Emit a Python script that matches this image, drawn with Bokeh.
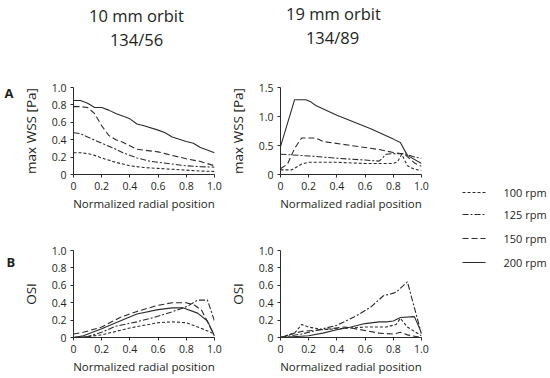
from bokeh.plotting import figure
from bokeh.layouts import row, column
from bokeh.models import Range1d, FixedTicker
from bokeh.core.properties import value
from bokeh.embed import file_html
from bokeh.resources import INLINE

FONT = "Open Sans"
INK = "#231f20"
LINE = "#2b2b2b"

# ---------------- data ----------------
titles = ["10 mm orbit", "19 mm orbit"]
subtitles = ["134/56", "134/89"]
panel_letters = ["A", "B"]
rpm_labels = ["100 rpm", "125 rpm", "150 rpm", "200 rpm"]
rpm_dashes = ["3 2", "6 2 2 2", "6 3", "solid"]

x_ticks = [0, 0.2, 0.4, 0.6, 0.8, 1.0]
x_tick_labels = ["0", "0.2", "0.4", "0.6", "0.8", "1.0"]
wss10_ticks = [0, 0.2, 0.4, 0.6, 0.8, 1.0]
wss10_tick_labels = ["0", "0.2", "0.4", "0.6", "0.8", "1.0"]
wss19_ticks = [0, 0.5, 1.0, 1.5]
wss19_tick_labels = ["0", "0.5", "1.0", "1.5"]
osi_ticks = [0, 0.2, 0.4, 0.6, 0.8, 1.0]
osi_tick_labels = ["0", "0.2", "0.4", "0.6", "0.8", "1.0"]

# A, 10 mm orbit: max WSS [Pa]
wss10_x_100 = [0, 0.05, 0.1, 0.15, 0.2, 0.3, 0.4, 0.5, 0.6, 0.7, 0.8, 0.9, 1.0]
wss10_y_100 = [0.25, 0.25, 0.24, 0.22, 0.19, 0.14, 0.10, 0.08, 0.07, 0.06, 0.05, 0.04, 0.035]
wss10_x_125 = [0, 0.05, 0.1, 0.2, 0.3, 0.35, 0.45, 0.55, 0.7, 0.8, 0.9, 1.0]
wss10_y_125 = [0.48, 0.47, 0.43, 0.36, 0.29, 0.25, 0.19, 0.15, 0.12, 0.10, 0.09, 0.085]
wss10_x_150 = [0, 0.05, 0.1, 0.15, 0.2, 0.25, 0.3, 0.35, 0.4, 0.45, 0.5, 0.6, 0.65, 0.7, 0.8, 0.9, 1.0]
wss10_y_150 = [0.78, 0.78, 0.77, 0.70, 0.56, 0.45, 0.40, 0.37, 0.33, 0.29, 0.28, 0.26, 0.24, 0.22, 0.18, 0.15, 0.10]
wss10_x_200 = [0, 0.05, 0.1, 0.15, 0.2, 0.25, 0.3, 0.4, 0.45, 0.5, 0.6, 0.65, 0.7, 0.8, 0.85, 0.9, 1.0]
wss10_y_200 = [0.85, 0.85, 0.82, 0.77, 0.77, 0.74, 0.70, 0.64, 0.58, 0.56, 0.51, 0.48, 0.43, 0.38, 0.36, 0.31, 0.25]

# A, 19 mm orbit: max WSS [Pa]
wss19_x_100 = [0, 0.08, 0.15, 0.2, 0.4, 0.6, 0.8, 0.83, 0.86, 0.9, 0.95, 1.0]
wss19_y_100 = [0.08, 0.08, 0.18, 0.21, 0.21, 0.19, 0.19, 0.22, 0.35, 0.15, 0.09, 0.07]
wss19_x_125 = [0, 0.2, 0.4, 0.6, 0.7, 0.75, 0.8, 0.88, 0.95, 1.0]
wss19_y_125 = [0.35, 0.32, 0.28, 0.25, 0.23, 0.35, 0.36, 0.36, 0.30, 0.28]
wss19_x_150 = [0, 0.05, 0.1, 0.15, 0.25, 0.3, 0.5, 0.7, 0.8, 0.88, 0.95, 1.0]
wss19_y_150 = [0.10, 0.18, 0.45, 0.63, 0.63, 0.57, 0.50, 0.43, 0.38, 0.35, 0.20, 0.14]
wss19_x_200 = [0, 0.1, 0.18, 0.21, 0.25, 0.4, 0.64, 0.8, 0.85, 0.9, 1.0]
wss19_y_200 = [0.48, 1.29, 1.29, 1.26, 1.19, 1.02, 0.79, 0.61, 0.55, 0.33, 0.19]

# B, 10 mm orbit: OSI
osi10_x_100 = [0, 0.1, 0.2, 0.3, 0.4, 0.5, 0.6, 0.7, 0.8, 0.9, 1.0]
osi10_y_100 = [0, 0.01, 0.03, 0.07, 0.11, 0.14, 0.17, 0.18, 0.17, 0.11, 0.04]
osi10_x_125 = [0, 0.1, 0.2, 0.3, 0.45, 0.57, 0.69, 0.81, 0.88, 0.95, 1.0]
osi10_y_125 = [0, 0.01, 0.06, 0.13, 0.18, 0.23, 0.29, 0.36, 0.43, 0.43, 0.19]
osi10_x_150 = [0, 0.07, 0.2, 0.33, 0.45, 0.6, 0.7, 0.8, 0.86, 0.91, 1.0]
osi10_y_150 = [0.04, 0.06, 0.12, 0.23, 0.30, 0.37, 0.40, 0.40, 0.37, 0.31, 0.02]
osi10_x_200 = [0, 0.07, 0.2, 0.33, 0.45, 0.6, 0.7, 0.78, 0.88, 0.95, 1.0]
osi10_y_200 = [0, 0.02, 0.10, 0.19, 0.27, 0.32, 0.34, 0.34, 0.28, 0.19, 0.02]

# B, 19 mm orbit: OSI
osi19_x_100 = [0, 0.1, 0.15, 0.2, 0.3, 0.4, 0.5, 0.6, 0.75, 0.82, 0.85, 0.9, 1.0]
osi19_y_100 = [0, 0.05, 0.15, 0.12, 0.09, 0.10, 0.11, 0.12, 0.12, 0.15, 0.22, 0.12, 0.02]
osi19_x_125 = [0, 0.15, 0.3, 0.4, 0.54, 0.64, 0.73, 0.78, 0.82, 0.9, 1.0]
osi19_y_125 = [0, 0.04, 0.10, 0.14, 0.25, 0.35, 0.48, 0.50, 0.52, 0.64, 0.04]
osi19_x_150 = [0, 0.1, 0.15, 0.3, 0.45, 0.5, 0.6, 0.7, 0.8, 0.85, 0.9, 1.0]
osi19_y_150 = [0, 0.05, 0.07, 0.09, 0.12, 0.11, 0.08, 0.05, 0.04, 0.06, 0.03, 0]
osi19_x_200 = [0, 0.2, 0.3, 0.4, 0.5, 0.6, 0.7, 0.75, 0.8, 0.85, 0.95, 1.0]
osi19_y_200 = [0, 0.02, 0.05, 0.09, 0.12, 0.16, 0.18, 0.18, 0.19, 0.23, 0.24, 0.05]

x_label = "Normalized radial position"
wss_label = "max WSS [Pa]"
osi_label = "OSI"


def blank(w, h, xr, yr):
    f = figure(width=w, height=h, x_range=Range1d(*xr), y_range=Range1d(*yr),
               output_backend="svg", toolbar_location=None,
               min_border=0, min_border_left=0, min_border_right=0,
               min_border_top=0, min_border_bottom=0)
    f.axis.visible = False
    f.grid.visible = False
    f.outline_line_color = None
    f.background_fill_color = "white"
    f.border_fill_color = "white"
    return f


def panel(w, h, left, right, top, bottom, ymax, yticks, ylabels, ylab, series):
    f = figure(width=w, height=h, x_range=Range1d(0, 1), y_range=Range1d(0, ymax),
               output_backend="svg", toolbar_location=None,
               min_border_left=left, min_border_right=right,
               min_border_top=top, min_border_bottom=bottom)
    f.grid.visible = False
    f.outline_line_color = None
    for ax in (f.xaxis[0], f.yaxis[0]):
        ax.axis_line_color = LINE
        ax.axis_line_width = 1
        ax.major_tick_line_color = LINE
        ax.major_tick_in = 0
        ax.major_tick_out = 3
        ax.minor_tick_line_color = None
        ax.major_label_text_font = FONT
        ax.major_label_text_font_size = "10.5px"
        ax.major_label_text_color = INK
        ax.axis_label_text_font = FONT
        ax.axis_label_text_font_style = "normal"
        ax.axis_label_text_color = INK
    f.xaxis[0].ticker = FixedTicker(ticks=x_ticks)
    f.xaxis[0].major_label_overrides = dict(zip(x_ticks, x_tick_labels))
    f.xaxis[0].major_label_standoff = 4
    f.xaxis[0].axis_label = x_label
    f.xaxis[0].axis_label_text_font_size = "11.5px"
    f.xaxis[0].axis_label_standoff = 3
    f.yaxis[0].ticker = FixedTicker(ticks=yticks)
    f.yaxis[0].major_label_overrides = dict(zip(yticks, ylabels))
    f.yaxis[0].major_label_standoff = 4
    f.yaxis[0].axis_label = ylab
    f.yaxis[0].axis_label_text_font_size = "13.5px"
    f.yaxis[0].axis_label_standoff = 9
    for (xs, ys), dash in zip(series, rpm_dashes):
        f.line(xs, ys, line_color=LINE, line_width=1.1, line_dash=dash)
    return f


HEAD_H = 64
TOP_H = 150
BOT_H = 162
W_STRIP = 18
W_L = 207
W_R = 223
W_LEG = 100

# header with the two column titles
head = blank(W_STRIP + W_L + W_R + W_LEG, HEAD_H, (0, W_STRIP + W_L + W_R + W_LEG), (HEAD_H, 0))
head.text(x=[136, 333], y=[15, 13], text=titles, text_font=value(FONT),
          text_font_size="16.5px", text_align="center", text_baseline="middle",
          text_color=INK)
head.text(x=[136, 332], y=[39, 37], text=subtitles, text_font=value(FONT),
          text_font_size="16.5px", text_align="center", text_baseline="middle",
          text_color=INK)

a_strip = blank(W_STRIP, TOP_H, (0, W_STRIP), (TOP_H, 0))
a_strip.text(x=[4], y=[10], text=[panel_letters[0]], text_font=value(FONT),
             text_font_size="13px", text_font_style="bold", text_align="left",
             text_baseline="middle", text_color=INK)
b_strip = blank(W_STRIP, BOT_H, (0, W_STRIP), (BOT_H, 0))
b_strip.text(x=[6], y=[22], text=[panel_letters[1]], text_font=value(FONT),
             text_font_size="13px", text_font_style="bold", text_align="left",
             text_baseline="middle", text_color=INK)

tl = panel(W_L, TOP_H, 55, 11, 23, 40, 1.0, wss10_ticks, wss10_tick_labels, wss_label,
           [(wss10_x_100, wss10_y_100), (wss10_x_125, wss10_y_125),
            (wss10_x_150, wss10_y_150), (wss10_x_200, wss10_y_200)])
tr = panel(W_R, TOP_H, 55, 27, 23, 40, 1.5, wss19_ticks, wss19_tick_labels, wss_label,
           [(wss19_x_100, wss19_y_100), (wss19_x_125, wss19_y_125),
            (wss19_x_150, wss19_y_150), (wss19_x_200, wss19_y_200)])
bl = panel(W_L, BOT_H, 55, 11, 36, 39, 1.0, osi_ticks, osi_tick_labels, osi_label,
           [(osi10_x_100, osi10_y_100), (osi10_x_125, osi10_y_125),
            (osi10_x_150, osi10_y_150), (osi10_x_200, osi10_y_200)])
br = panel(W_R, BOT_H, 55, 27, 36, 39, 1.0, osi_ticks, osi_tick_labels, osi_label,
           [(osi19_x_100, osi19_y_100), (osi19_x_125, osi19_y_125),
            (osi19_x_150, osi19_y_150), (osi19_x_200, osi19_y_200)])

# legend
LEG_H = TOP_H + BOT_H
leg = blank(W_LEG, LEG_H, (0, W_LEG), (LEG_H, 0))
leg_y = [128, 150, 174, 198]
for yy, dash in zip(leg_y, rpm_dashes):
    leg.line([14, 37], [yy, yy], line_color=LINE, line_width=1.1, line_dash=dash)
leg.text(x=[55] * 4, y=leg_y, text=rpm_labels, text_font=value(FONT),
         text_font_size="11px", text_align="left", text_baseline="middle",
         text_color=INK)

plots = column(row(a_strip, tl, tr), row(b_strip, bl, br))
layout = column(head, row(plots, leg))

open("out.html", "w").write(file_html(layout, INLINE))
